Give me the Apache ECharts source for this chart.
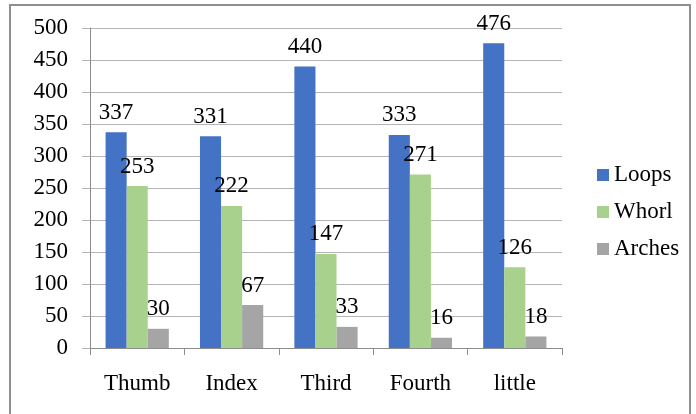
<!DOCTYPE html>
<html>
<head>
<meta charset="utf-8">
<script src="https://cdn.jsdelivr.net/npm/echarts@6/dist/echarts.min.js"></script>
<style>
  html, body { margin: 0; padding: 0; background: #fff; }
  #chart { width: 696px; height: 414px; }
</style>
</head>
<body>
<div id="chart"></div>
<script>
// Fingerprint pattern counts per finger
const fingers = ['Thumb', 'Index', 'Third', 'Fourth', 'little'];
const loops = [337, 331, 440, 333, 476];
const whorl = [253, 222, 147, 271, 126];
const arches = [30, 67, 33, 16, 18];
const yTicks = { min: 0, max: 500, step: 50 };

const FONT = 'Liberation Serif';
const FS = 23;
const chart = echarts.init(document.getElementById('chart'));

function barSeries(name, data, color) {
  return {
    name: name,
    type: 'bar',
    data: data,
    barGap: '0%',
    barCategoryGap: '33%',
    itemStyle: { color: color },
    label: {
      show: true,
      position: 'top',
      distance: 8,
      color: '#000',
      fontFamily: FONT,
      fontSize: FS
    }
  };
}

chart.setOption({
  animation: false,
  textStyle: { fontFamily: FONT },
  graphic: [{
    type: 'rect',
    shape: { x: 10, y: 5, width: 680, height: 430 },
    style: { fill: 'none', stroke: '#8f8f8f', lineWidth: 2 },
    silent: true
  }],
  grid: { left: 90, top: 28, right: 134, bottom: 66 },
  legend: {
    orient: 'vertical',
    left: 592,
    top: 158,
    itemWidth: 12,
    itemHeight: 12,
    itemGap: 13,
    icon: 'rect',
    textStyle: { fontFamily: FONT, fontSize: FS, color: '#000', lineHeight: 24 },
    data: ['Loops', 'Whorl', 'Arches']
  },
  xAxis: {
    type: 'category',
    data: fingers,
    axisLine: { lineStyle: { color: '#8c8c8c', width: 1 } },
    axisTick: { show: true, length: 7, lineStyle: { color: '#8c8c8c' } },
    axisLabel: { color: '#000', fontFamily: FONT, fontSize: FS, margin: 24 }
  },
  yAxis: {
    type: 'value',
    min: yTicks.min,
    max: yTicks.max,
    interval: yTicks.step,
    axisLine: { show: true, lineStyle: { color: '#8c8c8c', width: 1 } },
    axisTick: { show: true, length: 8, lineStyle: { color: '#b5b5b5' } },
    axisLabel: { color: '#000', fontFamily: FONT, fontSize: FS, margin: 22 },
    splitLine: { show: true, lineStyle: { color: '#b5b5b5', width: 1 } }
  },
  series: [
    barSeries('Loops', loops, '#4472C4'),
    barSeries('Whorl', whorl, '#A9D18E'),
    barSeries('Arches', arches, '#A5A5A5')
  ]
});
</script>
</body>
</html>
